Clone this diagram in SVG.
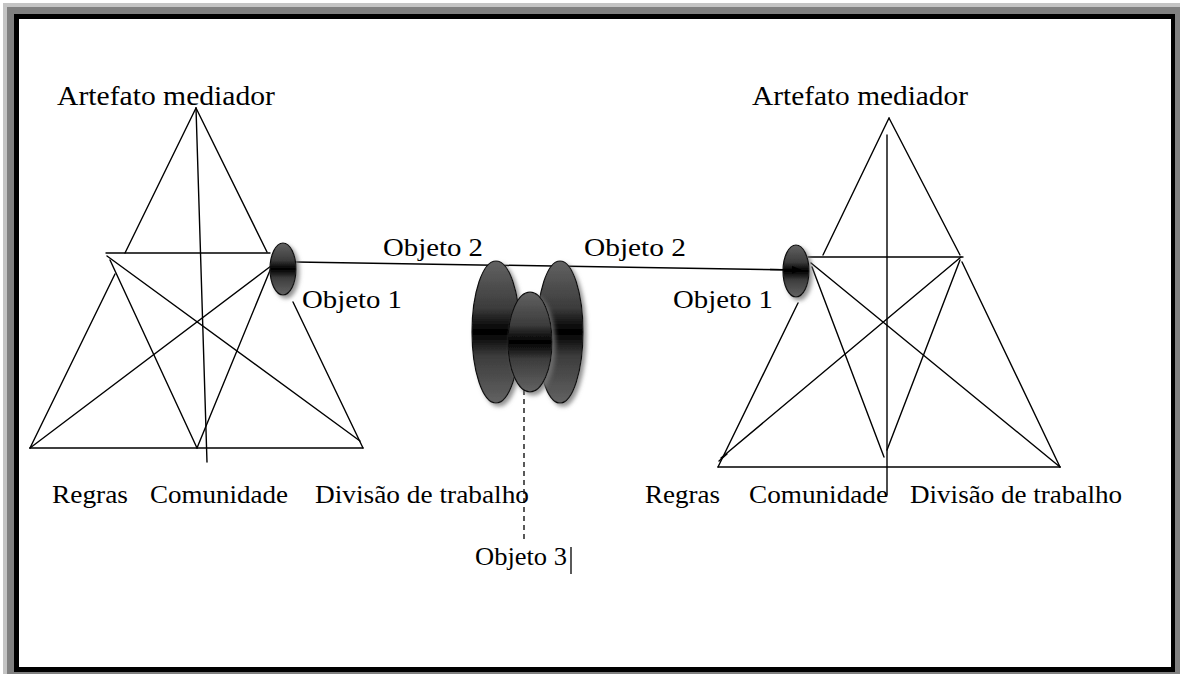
<svg xmlns="http://www.w3.org/2000/svg" width="1180" height="674" viewBox="0 0 1180 674">
<style>
.ln{stroke:#000;stroke-width:1.4;fill:none;stroke-linecap:round}
.tx{fill:#000;font-family:"Liberation Serif","Times New Roman",serif}
.big{font-size:28px}
.mid{font-size:26px}
.sm{font-size:25px}
.obj{stroke:#111;stroke-width:1.2;filter:url(#sh)}
</style>
<defs>
<linearGradient id="g" x1="0" y1="0" x2="0" y2="1">
<stop offset="0" stop-color="#626262"/>
<stop offset="0.33" stop-color="#3c3c3c"/>
<stop offset="0.46" stop-color="#0c0c0c"/>
<stop offset="0.5" stop-color="#000"/>
<stop offset="0.54" stop-color="#0c0c0c"/>
<stop offset="0.67" stop-color="#3c3c3c"/>
<stop offset="1" stop-color="#626262"/>
</linearGradient>
<filter id="sh" x="-50%" y="-50%" width="200%" height="200%">
<feDropShadow dx="3" dy="3" stdDeviation="2" flood-color="#777" flood-opacity="0.8"/>
</filter>
<marker id="arr" markerWidth="10" markerHeight="8" refX="9" refY="4" orient="auto" markerUnits="userSpaceOnUse">
<path d="M0,0 L10,4 L0,8 Z" fill="#000"/>
</marker>
</defs>
<g id="frame">
<rect x="0" y="0" width="1180" height="674" fill="#fff"/>
<rect x="3" y="3" width="1177" height="671" fill="#c4c4c4"/>
<rect x="7" y="7" width="1173" height="667" fill="#808080"/>
<rect x="14" y="14" width="1161" height="658" fill="#000"/>
<rect x="19" y="19" width="1152" height="648" fill="#fff"/>
</g>
<g id="left-system">
<line class="ln" x1="196" y1="108" x2="125" y2="253"/>
<line class="ln" x1="196" y1="108" x2="267" y2="252"/>
<line class="ln" x1="196" y1="108" x2="207" y2="462"/>
<line class="ln" x1="106" y1="253" x2="270" y2="253"/>
<line class="ln" x1="30" y1="448" x2="363" y2="448"/>
<line class="ln" x1="30" y1="448" x2="115" y2="274"/>
<line class="ln" x1="293" y1="302" x2="363" y2="448"/>
<line class="ln" x1="107" y1="256" x2="360" y2="441"/>
<line class="ln" x1="110" y1="260" x2="197" y2="448"/>
<line class="ln" x1="271" y1="266" x2="30" y2="448"/>
<line class="ln" x1="271" y1="268" x2="197" y2="448"/>
</g>
<g id="right-system">
<line class="ln" x1="889" y1="118" x2="823" y2="255"/>
<line class="ln" x1="889" y1="118" x2="960" y2="255"/>
<line class="ln" x1="887" y1="135" x2="887" y2="495"/>
<line class="ln" x1="808" y1="257" x2="963" y2="257"/>
<line class="ln" x1="718" y1="467" x2="1060" y2="467"/>
<line class="ln" x1="718" y1="467" x2="798" y2="303"/>
<line class="ln" x1="962" y1="262" x2="1060" y2="467"/>
<line class="ln" x1="811" y1="263" x2="1060" y2="467"/>
<line class="ln" x1="812" y1="267" x2="884" y2="457"/>
<line class="ln" x1="961" y1="257" x2="721" y2="458"/>
<line class="ln" x1="719" y1="461" x2="727" y2="454"/>
<line class="ln" x1="960" y1="260" x2="887" y2="450"/>
</g>
<g id="connectors">
<line x1="296" y1="262" x2="800" y2="270" stroke="#000" stroke-width="1.5"/>
<line x1="524" y1="363" x2="524" y2="540" stroke="#000" stroke-width="1.3" stroke-dasharray="5,4"/>
</g>
<g id="objeto1-left">
<ellipse class="obj" cx="283" cy="269" rx="13" ry="26" fill="url(#g)"/>
</g>
<g id="objeto2-group">
<ellipse class="obj" cx="496" cy="332" rx="24" ry="71" fill="url(#g)"/>
<ellipse class="obj" cx="560" cy="332" rx="23" ry="71" fill="url(#g)"/>
<ellipse class="obj" cx="530" cy="342" rx="22" ry="50" fill="url(#g)"/>
</g>
<g id="objeto1-right">
<ellipse class="obj" cx="796" cy="271" rx="13" ry="26" fill="url(#g)"/>
<line x1="770" y1="269.6" x2="801" y2="270" stroke="#000" stroke-width="1.5" marker-end="url(#arr)"/>
</g>
<g id="labels">
<text class="tx big" x="57" y="105" textLength="218" lengthAdjust="spacingAndGlyphs">Artefato mediador</text>
<text class="tx big" x="752" y="105" textLength="216" lengthAdjust="spacingAndGlyphs">Artefato mediador</text>
<text class="tx mid" x="383" y="256" textLength="100" lengthAdjust="spacingAndGlyphs">Objeto 2</text>
<text class="tx mid" x="584" y="256" textLength="102" lengthAdjust="spacingAndGlyphs">Objeto 2</text>
<text class="tx mid" x="302" y="308" textLength="100" lengthAdjust="spacingAndGlyphs">Objeto 1</text>
<text class="tx mid" x="673" y="308" textLength="100" lengthAdjust="spacingAndGlyphs">Objeto 1</text>
<text class="tx sm" x="52" y="503" textLength="76" lengthAdjust="spacingAndGlyphs">Regras</text>
<text class="tx sm" x="150" y="503" textLength="138" lengthAdjust="spacingAndGlyphs">Comunidade</text>
<text class="tx sm" x="315" y="503" textLength="214" lengthAdjust="spacingAndGlyphs">Divisão de trabalho</text>
<text class="tx sm" x="645" y="503" textLength="75" lengthAdjust="spacingAndGlyphs">Regras</text>
<text class="tx sm" x="749" y="503" textLength="139" lengthAdjust="spacingAndGlyphs">Comunidade</text>
<text class="tx sm" x="910" y="503" textLength="212" lengthAdjust="spacingAndGlyphs">Divisão de trabalho</text>
<text class="tx sm" x="475" y="565" textLength="92" lengthAdjust="spacingAndGlyphs">Objeto 3</text>
<line x1="571" y1="547" x2="571" y2="574" stroke="#000" stroke-width="1.3"/>
</g>
</svg>
